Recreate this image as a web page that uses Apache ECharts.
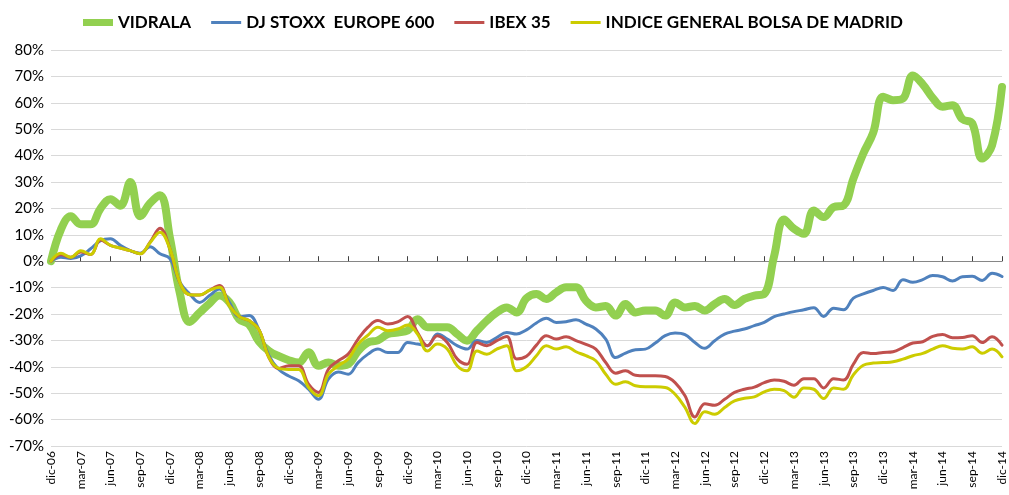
<!DOCTYPE html>
<html>
<head>
<meta charset="utf-8">
<title>Vidrala vs índices</title>
<script src="https://cdn.jsdelivr.net/npm/echarts@6/dist/echarts.min.js"></script>
<style>
  html, body { margin: 0; padding: 0; background: #fff; }
  #chart { width: 1009px; height: 495px; }
</style>
</head>
<body>
<div id="chart"></div>
<script>
// meses (dic-06 .. dic-14)
var meses = [
  'dic-06',
  'ene-07','feb-07','mar-07','abr-07','may-07','jun-07','jul-07','ago-07','sep-07','oct-07','nov-07','dic-07',
  'ene-08','feb-08','mar-08','abr-08','may-08','jun-08','jul-08','ago-08','sep-08','oct-08','nov-08','dic-08',
  'ene-09','feb-09','mar-09','abr-09','may-09','jun-09','jul-09','ago-09','sep-09','oct-09','nov-09','dic-09',
  'ene-10','feb-10','mar-10','abr-10','may-10','jun-10','jul-10','ago-10','sep-10','oct-10','nov-10','dic-10',
  'ene-11','feb-11','mar-11','abr-11','may-11','jun-11','jul-11','ago-11','sep-11','oct-11','nov-11','dic-11',
  'ene-12','feb-12','mar-12','abr-12','may-12','jun-12','jul-12','ago-12','sep-12','oct-12','nov-12','dic-12',
  'ene-13','feb-13','mar-13','abr-13','may-13','jun-13','jul-13','ago-13','sep-13','oct-13','nov-13','dic-13',
  'ene-14','feb-14','mar-14','abr-14','may-14','jun-14','jul-14','ago-14','sep-14','oct-14','nov-14','dic-14'
];

// rentabilidad acumulada (%)
var vidrala = [
  0,
  12, 17, 14, 14, 20, 23.5, 21, 30, 17, 22, 25, 9,
  -12, -23, -19.5, -16, -13, -15.5, -22, -24, -30.5, -34, -36, -37.5,
  -38.4, -34.5, -39.6, -38.4, -39.6, -39, -34, -30.8, -30, -27.6, -27, -26.3,
  -22, -25, -25, -25, -27.6, -30.1, -26.3, -22.5, -19.4, -17.5, -19.4, -14,
  -12.4, -14.3, -11.8, -9.9, -9.9, -15, -17.5, -17, -20.6, -16.2, -19.4, -18.7,
  -18.7, -20.6, -15.6, -17.5, -17, -18.7, -16.2, -14.3, -16.6, -14.3, -13, -12.4,
  2, 15.8, 12.3, 10.4, 19.2, 16.7, 20.5, 21.1, 31.3, 40.8, 48.7, 62.3,
  61, 61.6, 70.3, 67, 61.9, 58.5, 59.1, 53.8, 52.2, 38.9, 43.9, 66
];

var stoxx600 = [
  0,
  1.5, 1, 2, 4.7, 7.8, 8.5, 6, 4, 3, 5.5, 2.8, 1,
  -8, -12.4, -15.6, -13, -10.5, -15.6, -21, -20.6, -26, -35.8, -41, -43.5,
  -45.3, -48.5, -52.3, -44.7, -42, -42.8, -38.4, -35.2, -33.3, -34.6, -34.6, -30.8,
  -31.4, -32, -27.6, -29.5, -32, -33.3, -30, -30.8, -28.9, -27, -27.6, -26,
  -23.4, -21.6, -23.2, -22.9, -22.2, -23.8, -25.7, -29.5, -36.5, -34.8, -33.5, -33.3,
  -31, -28.2, -27.2, -27.8, -30.8, -33, -30.1, -27.6, -26.5, -25.7, -24.4, -23.2,
  -21, -20, -19.1, -18.4, -17.6, -20.9, -17.8, -18.4, -14, -12.4, -11.1, -10,
  -11.1, -7, -8, -7, -5.4, -5.9, -7.5, -5.9, -5.7, -7.3, -4.6, -5.8
];

var ibex35 = [
  0,
  2.4, 1.5, 3.5, 2.5, 8, 6, 5, 4, 2.8, 7.2, 12.5, 4.7,
  -8, -12.7, -12.8, -11, -9.2, -16.8, -21, -22.5, -26, -36.5, -40.6, -39.6,
  -39.6, -46.6, -49.7, -40.9, -37.7, -35.2, -29.5, -25, -22.5, -23.8, -23, -20.9,
  -27, -32, -28.2, -30.8, -37, -39, -30.8, -32, -30.1, -28.5, -37, -36,
  -31.8, -28.2, -29.5, -28.6, -30.1, -31.5, -33.3, -38.4, -42.4, -41.5, -43.2, -43.4,
  -43.4, -43.7, -46, -51, -59, -54, -54.6, -52.3, -49.7, -48.5, -47.7, -46,
  -45, -45.5, -47, -44.5, -44.5, -48, -44.5, -45, -39, -34.6, -35, -34.6,
  -34.3, -32.7, -31, -30.5, -28.5, -27.8, -29, -28.9, -28.2, -30.8, -28.6, -31.8
];

var igbm = [
  0,
  3, 1.5, 4, 2.5, 8.5, 6, 5, 4, 2.8, 7, 11, 4.7,
  -8, -12.7, -12.8, -11, -9.9, -16.8, -21, -22.5, -26, -36.5, -40.6, -41,
  -41, -47.8, -51, -42.8, -39.6, -37, -31.4, -28, -25, -26.3, -25.7, -24.2,
  -27.6, -34, -31.4, -33.3, -39.6, -41.5, -34, -35.2, -33.3, -32, -41.5, -40,
  -35.8, -32, -33.3, -32.4, -34.3, -35.8, -37.7, -42.8, -46.6, -45.7, -47.2, -47.6,
  -47.6, -47.8, -50.4, -55.4, -61.5, -57, -58, -55.4, -52.9, -51.9, -51.4, -49.5,
  -48.5, -49, -51.5, -48, -48.5, -52, -48, -48.5, -43, -39.4, -38.6, -38.4,
  -38.1, -37.1, -35.8, -34.9, -33.3, -32, -33, -33.3, -32.4, -34.9, -33.3, -36.2
];

var fuente = 'Lato, "Open Sans", sans-serif';

// iconos de leyenda: linea fina / gruesa dentro de una caja 30x14
var iconoFino = 'path://M0,0L30,0ZM0,5.5L30,5.5L30,8.5L0,8.5ZM0,14L30,14Z';
var iconoGrueso = 'path://M0,0L30,0ZM0,3.5L30,3.5L30,10.5L0,10.5ZM0,14L30,14Z';

function serie(nombre, datos, color, ancho) {
  return {
    name: nombre,
    type: 'line',
    data: datos,
    xAxisIndex: 0,
    smooth: 0.4,
    showSymbol: false,
    symbol: 'none',
    lineStyle: { color: color, width: ancho, cap: 'round', join: 'round' },
    itemStyle: { color: color }
  };
}

var chart = echarts.init(document.getElementById('chart'), null, { renderer: 'canvas' });
chart.setOption({
  animation: false,
  backgroundColor: '#ffffff',
  textStyle: { fontFamily: fuente },
  legend: {
    top: 9,
    left: 78,
    itemWidth: 30,
    itemHeight: 14,
    itemGap: 20,
    itemStyle: { borderWidth: 0 },
    lineStyle: { width: 0 },
    textStyle: { fontFamily: fuente, fontWeight: 'bold', fontSize: 17, color: '#000' },
    data: [
      { name: 'VIDRALA', icon: iconoGrueso },
      { name: 'DJ STOXX  EUROPE 600', icon: iconoFino },
      { name: 'IBEX 35', icon: iconoFino },
      { name: 'INDICE GENERAL BOLSA DE MADRID', icon: iconoFino }
    ]
  },
  grid: { left: 51, right: 7, top: 50, bottom: 49, containLabel: false },
  xAxis: [
    {
      type: 'category',
      data: meses,
      boundaryGap: false,
      position: 'bottom',
      axisLine: { show: false, onZero: false },
      axisTick: { show: false },
      splitLine: { show: false },
      axisLabel: {
        interval: 2,
        rotate: 90,
        margin: 5,
        fontSize: 12,
        color: '#000',
        fontFamily: fuente
      }
    },
    {
      type: 'category',
      data: meses,
      boundaryGap: false,
      axisLine: { show: true, onZero: true, lineStyle: { color: '#868686', width: 1 } },
      axisTick: { show: true, interval: 2, length: 5, inside: false, lineStyle: { color: '#404040' } },
      axisLabel: { show: false },
      splitLine: { show: false }
    }
  ],
  yAxis: {
    type: 'value',
    min: -70,
    max: 80,
    interval: 10,
    axisLine: { show: false },
    axisTick: { show: false },
    axisLabel: { formatter: '{value}%', fontSize: 15, color: '#000', margin: 7, fontFamily: fuente },
    splitLine: { lineStyle: { color: '#d9d9d9', width: 1 } }
  },
  series: [
    serie('VIDRALA', vidrala, '#92d050', 8),
    serie('DJ STOXX  EUROPE 600', stoxx600, '#4f81bd', 3),
    serie('IBEX 35', ibex35, '#c0504d', 3),
    serie('INDICE GENERAL BOLSA DE MADRID', igbm, '#cccc00', 3)
  ]
});
</script>
</body>
</html>
